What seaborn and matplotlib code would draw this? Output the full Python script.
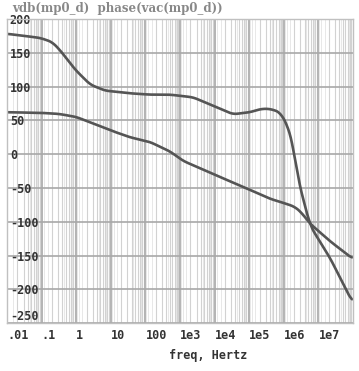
import numpy as np
import pandas as pd
import matplotlib
matplotlib.use("Agg")
import matplotlib.pyplot as plt
import seaborn as sns

# Data (log10 of frequency, values)
mag_logf = [-2, -1, -0.5, 0, 0.4, 0.7, 1.0, 1.55, 2.13, 2.71, 3.09, 4.07, 4.94, 5.6, 6.1, 6.32, 6.5, 6.76, 7.34, 7.97]
mag_val = [62, 61, 59.5, 55, 47, 41, 35, 25, 18, 4, -10, -32, -51, -66, -74, -78, -86, -103, -129, -154]

ph_logf = [-2, -1.05, -0.7, -0.47, -0.03, 0.40, 0.83, 1.55, 2.13, 2.71, 3.38, 4.07, 4.53, 5.02, 5.35, 5.6, 5.89, 6.12, 6.27, 6.41, 6.76, 7.34, 7.97]
ph_val = [178, 172, 166, 154, 125, 103, 94, 90, 88, 88, 84, 69, 59, 62, 67, 67, 62, 41, 12, -37, -106, -154, -218]

x_ticks = [1e-2, 1e-1, 1, 10, 100, 1e3, 1e4, 1e5, 1e6, 1e7]
x_labels = [".01", ".1", "1", "10", "100", "1e3", "1e4", "1e5", "1e6", "1e7"]
y_ticks = [200, 150, 100, 50, 0, -50, -100, -150, -200, -250]

def smooth(lf, v, n=800, k=10):
    xs = np.linspace(min(lf), max(lf), n)
    ys = np.interp(xs, lf, v)
    pad = np.pad(ys, k, mode="edge")
    ys = np.convolve(pad, np.ones(2 * k + 1) / (2 * k + 1), mode="same")[k:-k]
    return 10 ** xs, ys

fm, vm = smooth(mag_logf, mag_val)
fp, vp = smooth(ph_logf, ph_val)
df = pd.concat([
    pd.DataFrame({"freq": fm, "val": vm, "trace": "vdb"}),
    pd.DataFrame({"freq": fp, "val": vp, "trace": "phase"}),
])

sns.set_style("white")
fig = plt.figure(figsize=(3.59, 3.71), dpi=100)
ax = fig.add_axes([0.0195, 0.129, 0.964, 0.82])

# grid
for d in range(-2, 8):
    for m in range(1, 10):
        f = m * 10.0 ** d
        if m == 1:
            ax.axvline(f, color="#b4b4b4", lw=1.4, zorder=0)
        else:
            ax.axvline(f, color="#d2d2d2", lw=0.8, zorder=0)
        if m < 9:
            ax.axvline(f * 1.5, color="#e4e4e4", lw=0.6, zorder=0)
for y in y_ticks:
    ax.axhline(y, color="#a8a8a8", lw=1.2, zorder=0)

sns.lineplot(data=df, x="freq", y="val", units="trace", estimator=None,
             color="#555555", lw=1.9, ax=ax, legend=False, sort=False)

ax.set_xscale("log")
ax.set_xlim(1e-2, 1e8)
ax.set_ylim(-250, 200)
ax.set_xticks(x_ticks)
ax.set_xticklabels(x_labels)
ax.xaxis.set_minor_locator(matplotlib.ticker.NullLocator())
ax.set_yticks(y_ticks)
ax.set_yticklabels([str(v) for v in y_ticks])
ax.tick_params(axis="y", length=0, pad=-2, labelsize=8.5, labelcolor="#333333")
ax.tick_params(axis="x", length=0, pad=4, labelsize=8.5, labelcolor="#333333")
for lab in ax.get_yticklabels():
    lab.set_horizontalalignment("left")
    lab.set_fontweight("bold")
    lab.set_fontfamily("DejaVu Sans Mono")
ax.get_yticklabels()[-1].set_verticalalignment("bottom")
for lab in ax.get_xticklabels():
    lab.set_horizontalalignment("left")
    lab.set_fontweight("bold")
    lab.set_fontfamily("DejaVu Sans Mono")
ax.set_xlabel("freq, Hertz", fontsize=8.5, fontweight="bold", color="#333333",
              family="DejaVu Sans Mono", labelpad=1)
ax.xaxis.set_label_coords(0.58, -0.085)
ax.set_ylabel("")
for s in ax.spines.values():
    s.set_color("#c0c0c0")
    s.set_linewidth(1)

fig.text(0.035, 0.995, "vdb(mp0_d)  phase(vac(mp0_d))", fontsize=8.5,
         fontweight="bold", color="#888888", family="DejaVu Serif", va="top")

fig.savefig("out.png", dpi=100)
